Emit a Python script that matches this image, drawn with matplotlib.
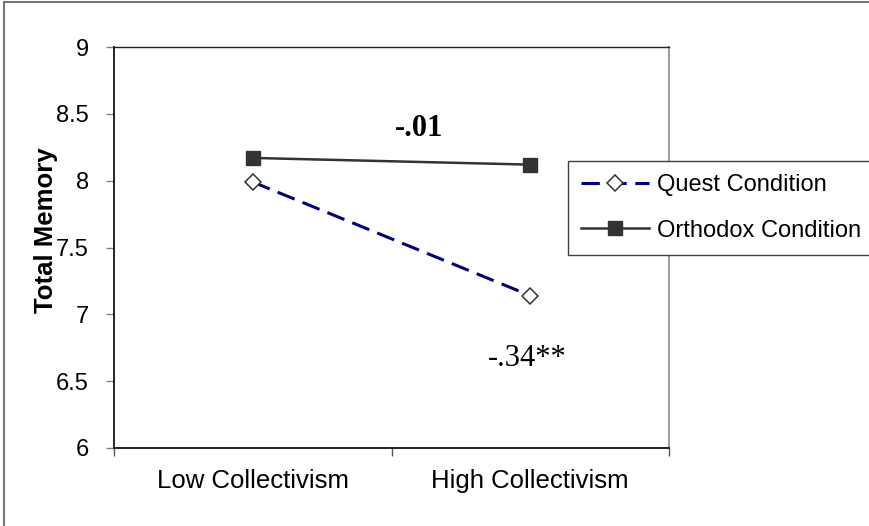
import matplotlib
matplotlib.use("Agg")
import matplotlib.pyplot as plt
from matplotlib.lines import Line2D

# Data
categories = ["Low Collectivism", "High Collectivism"]
quest = [7.99, 7.14]
orthodox = [8.17, 8.12]
series_names = ["Quest Condition", "Orthodox Condition"]
slope_labels = ["-.01", "-.34**"]
y_ticks = [6, 6.5, 7, 7.5, 8, 8.5, 9]
y_tick_labels = ["6", "6.5", "7", "7.5", "8", "8.5", "9"]

plt.rcParams["font.family"] = ["Liberation Sans", "DejaVu Sans"]

W, H = 869, 526
fig = plt.figure(figsize=(W / 100, H / 100), dpi=100)
ax = fig.add_axes([114 / W, 1 - 448 / H, (669 - 114) / W, (448 - 47) / H])

x = list(range(len(categories)))

ax.plot(x, quest, color="#000080", lw=2.2, linestyle=(0, (6, 2.8)),
        marker="D", markersize=8, markerfacecolor="white",
        markeredgecolor="#333333", markeredgewidth=1.1,
        label=series_names[0], zorder=3)
ax.plot(x, orthodox, color="#333333", lw=1.8, linestyle="-",
        marker="s", markersize=10.5, markerfacecolor="#333333",
        markeredgecolor="#333333", label=series_names[1], zorder=3)

ax.set_xlim(-0.5, len(categories) - 0.5)
ax.set_ylim(6, 9)

# Category boundary ticks, labels centred between them
ax.set_xticks([i - 0.5 for i in range(len(categories) + 1)])
ax.set_xticklabels([])
ax.set_xticks(x, minor=True)
ax.set_xticklabels(categories, minor=True, fontsize=18.5)
ax.tick_params(axis="x", which="minor", length=0, pad=15)
ax.tick_params(axis="x", which="major", length=6, color="#555555",
               direction="out", width=1)

ax.set_yticks(y_ticks)
ax.set_yticklabels(y_tick_labels, fontsize=17)
ax.tick_params(axis="y", length=6, color="#808080", direction="out",
               width=1, pad=12)

for side in ["left", "bottom"]:
    ax.spines[side].set_color("black")
    ax.spines[side].set_linewidth(1.2)
ax.spines["top"].set_color("#222222")
ax.spines["top"].set_linewidth(1.0)
ax.spines["right"].set_color("#a0a0a0")
ax.spines["right"].set_linewidth(1.5)

ax.set_ylabel("Total Memory", fontsize=18.5, fontweight="bold")
ax.yaxis.label.set_va("center")
ax.yaxis.set_label_coords(-0.122, 0.544)

ax.text(0.6, 8.39, slope_labels[0], fontsize=22, fontweight="bold",
        family=["Liberation Serif"], ha="center", va="center")
ax.text(0.99, 6.67, slope_labels[1], fontsize=22,
        family=["Liberation Serif"], ha="center", va="center")

leg = ax.legend(loc="upper left", bbox_to_anchor=(568 / W, 1 - 161 / H),
                bbox_transform=fig.transFigure, fontsize=17,
                frameon=True, fancybox=False, framealpha=1,
                edgecolor="#404040", borderaxespad=0, borderpad=0.55,
                labelspacing=1.0, handlelength=2.9, handletextpad=0.3)
leg.get_frame().set_linewidth(1.0)
leg.set_zorder(5)

# Outer frame edges
fig.add_artist(Line2D([4 / W, 4 / W], [0, 1 - 1.5 / H],
                      transform=fig.transFigure, color="#777777", lw=1.5))
fig.add_artist(Line2D([4 / W, 1], [1 - 1.5 / H, 1 - 1.5 / H],
                      transform=fig.transFigure, color="#777777", lw=1.5))

fig.savefig("out.png", dpi=100)
